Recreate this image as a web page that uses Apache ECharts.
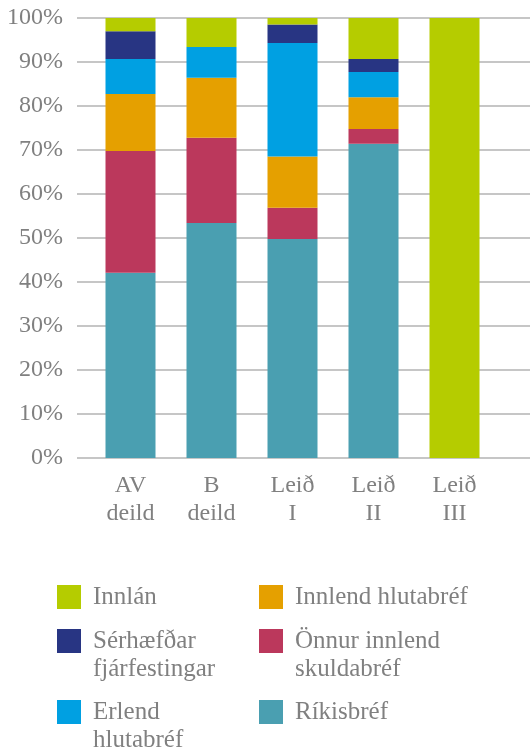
<!DOCTYPE html>
<html>
<head>
<meta charset="utf-8">
<script src="https://cdn.jsdelivr.net/npm/echarts@6/dist/echarts.min.js"></script>
<style>
  html, body { margin: 0; padding: 0; background: #fff; }
  #chart { width: 530px; height: 751px; }
</style>
</head>
<body>
<div id="chart"></div>
<script>
'use strict';

// Data
// --------------------------------------------------------------------
const categories = ['AV\ndeild', 'B\ndeild', 'Leið\nI', 'Leið\nII', 'Leið\nIII'];
const yTicks = [0, 10, 20, 30, 40, 50, 60, 70, 80, 90, 100];

// stacked bottom to top
const rikisbref = [42.1, 53.4, 49.8, 71.4, 0];
const onnurSkuldabref = [27.7, 19.4, 7.1, 3.4, 0];
const innlendHlutabref = [12.9, 13.6, 11.6, 7.2, 0];
const erlendHlutabref = [8.0, 7.0, 25.8, 5.7, 0];
const serhaefdar = [6.3, 0, 4.2, 3.0, 0];
const innlan = [3.0, 6.6, 1.5, 9.3, 100];

(function () {
  const textColor = '#808080';
  const gridColor = '#b3b3b3';
  const font = 'Liberation Serif';

  const chartEl = document.querySelector('#chart');
  const chart = echarts.init(chartEl, null, { renderer: 'canvas' });

  const seriesDefs = [
    { name: 'Ríkisbréf', data: rikisbref, color: '#4a9fb1' },
    { name: 'Önnur innlend skuldabréf', data: onnurSkuldabref, color: '#bb385c' },
    { name: 'Innlend hlutabréf', data: innlendHlutabref, color: '#e5a000' },
    { name: 'Erlend hlutabréf', data: erlendHlutabref, color: '#00a0e2' },
    { name: 'Sérhæfðar fjárfestingar', data: serhaefdar, color: '#283583' },
    { name: 'Innlán', data: innlan, color: '#b5cc00' }
  ];

  // legend text; a leading blank line keeps the first line level with the square
  const legendLabels = {
    'Innlán': 'Innlán',
    'Innlend hlutabréf': 'Innlend hlutabréf',
    'Sérhæfðar fjárfestingar': '\nSérhæfðar\nfjárfestingar',
    'Önnur innlend skuldabréf': '\nÖnnur innlend\nskuldabréf',
    'Erlend hlutabréf': '\nErlend\nhlutabréf',
    'Ríkisbréf': 'Ríkisbréf'
  };

  const legendPlaces = [
    { name: 'Innlán', left: 57, top: 583 },
    { name: 'Innlend hlutabréf', left: 259, top: 583 },
    { name: 'Sérhæfðar fjárfestingar', left: 57, top: 599 },
    { name: 'Önnur innlend skuldabréf', left: 259, top: 599 },
    { name: 'Erlend hlutabréf', left: 57, top: 670 },
    { name: 'Ríkisbréf', left: 259, top: 698 }
  ];

  const legends = legendPlaces.map(function (p) {
    return {
      left: p.left,
      top: p.top,
      padding: 0,
      selectedMode: false,
      itemWidth: 24,
      itemHeight: 24,
      icon: 'rect',
      data: [p.name],
      formatter: function (n) { return legendLabels[n]; },
      textStyle: {
        fontFamily: font,
        fontSize: 25,
        color: textColor,
        lineHeight: 28,
        padding: [0, 0, 0, 7]
      }
    };
  });

  const option = {
    animation: false,
    backgroundColor: '#fff',
    grid: [
      { left: 77, right: 0, top: 18, height: 440 },
      { left: 90, width: 405, top: 18, height: 440 }
    ],
    xAxis: [
      { gridIndex: 0, type: 'value', show: false },
      {
        gridIndex: 1,
        type: 'category',
        data: categories,
        axisLine: { show: false },
        axisTick: { show: false },
        axisLabel: {
          margin: 14,
          fontFamily: font,
          fontSize: 24,
          lineHeight: 28,
          color: textColor
        }
      }
    ],
    yAxis: [
      {
        gridIndex: 0,
        type: 'value',
        min: yTicks[0],
        max: yTicks[yTicks.length - 1],
        interval: 10,
        axisLine: { show: false },
        axisTick: { show: false },
        splitLine: { lineStyle: { color: gridColor, width: 1.5 } },
        axisLabel: {
          margin: 14,
          fontFamily: font,
          fontSize: 24,
          color: textColor,
          formatter: '{value}%'
        }
      },
      {
        gridIndex: 1,
        type: 'value',
        min: 0,
        max: 100,
        show: false
      }
    ],
    legend: legends,
    series: seriesDefs.map(function (s) {
      return {
        name: s.name,
        type: 'bar',
        stack: 'total',
        xAxisIndex: 1,
        yAxisIndex: 1,
        barWidth: 50,
        data: s.data,
        itemStyle: { color: s.color }
      };
    })
  };

  chart.setOption(option);
  window.addEventListener('resize', chart.resize);
})();
</script>
</body>
</html>
